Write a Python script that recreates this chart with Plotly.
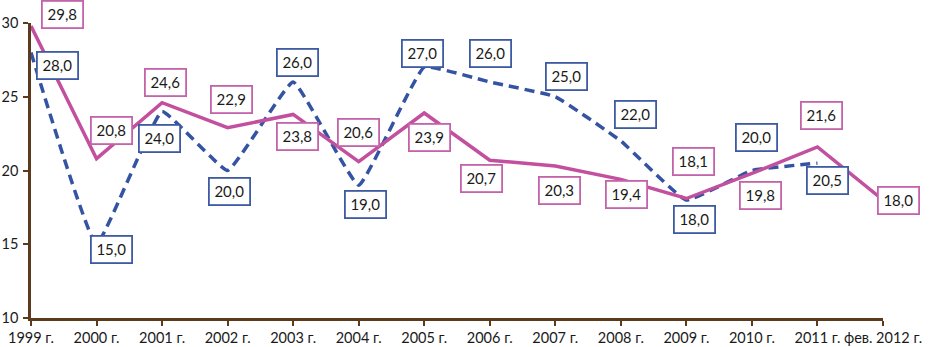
import plotly.graph_objects as go

categories = ["1999 г.", "2000 г.", "2001 г.", "2002 г.", "2003 г.", "2004 г.", "2005 г.",
              "2006 г.", "2007 г.", "2008 г.", "2009 г.", "2010 г.", "2011 г.", "фев. 2012 г."]
pink_values = [29.8, 20.8, 24.6, 22.9, 23.8, 20.6, 23.9, 20.7, 20.3, 19.4, 18.1, 19.8, 21.6, 18.0]
blue_values = [28.0, 15.0, 24.0, 20.0, 26.0, 19.0, 27.0, 26.0, 25.0, 22.0, 18.0, 20.0, 20.5, None]
y_ticks = [10, 15, 20, 25, 30]

# label pixel offsets (x, y) from each point; y positive = up
pink_offsets = [(31, 11), (15, 28), (3, 20), (4, 28), (4, -22), (0, 29), (5, -25),
                (-8, -18), (4, -24), (6, -15), (7, 37), (9, -22), (4, 31), (15, 0)]
blue_offsets = [(26, -13), (15, -5), (-3, -27), (2, -21), (4, 20), (7, -19), (-2, 14),
                (1, 29), (11, 20), (15, 27), (8, -19), (5, 33), (10, -17), None]

PINK = "#c2509e"
BLUE = "#3453a3"
PINK_BOX = "#c462aa"
BLUE_BOX = "#3d5aa2"
AXIS = "#5b3a1d"
FONT = "Lato"

fig = go.Figure()
fig.add_trace(go.Scatter(x=categories, y=blue_values, mode="lines",
                         line=dict(color=BLUE, width=3.5, dash="10px,6px", shape="spline", smoothing=0.3),
                         connectgaps=False, cliponaxis=False, hoverinfo="skip"))
fig.add_trace(go.Scatter(x=categories, y=pink_values, mode="lines",
                         line=dict(color=PINK, width=3.5), cliponaxis=False, hoverinfo="skip"))

annotations = []
def fmt(v):
    return f"{v:.1f}".replace(".", ",")

for c, v, off in zip(categories, blue_values, blue_offsets):
    if v is None:
        continue
    annotations.append(dict(x=c, y=v, xref="x", yref="y", text=fmt(v), showarrow=False,
                            xshift=off[0], yshift=off[1], bgcolor="white",
                            bordercolor=BLUE_BOX, borderwidth=1.8, borderpad=2,
                            width=35, height=21,
                            font=dict(family=FONT, size=15, color="#1a1a1a")))
for c, v, off in zip(categories, pink_values, pink_offsets):
    annotations.append(dict(x=c, y=v, xref="x", yref="y", text=fmt(v), showarrow=False,
                            xshift=off[0], yshift=off[1], bgcolor="white",
                            bordercolor=PINK_BOX, borderwidth=1.8, borderpad=2,
                            width=35, height=21,
                            font=dict(family=FONT, size=15, color="#1a1a1a")))

fig.update_layout(
    width=934, height=347,
    margin=dict(l=31, r=51, t=23, b=29, autoexpand=False),
    paper_bgcolor="white", plot_bgcolor="white",
    showlegend=False,
    annotations=annotations,
    font=dict(family=FONT, size=15, color="#1a1a1a"),
)
fig.update_xaxes(type="category", range=[0, 13], showgrid=False, zeroline=False,
                 showline=True, linecolor=AXIS, linewidth=2.5, automargin=False,
                 ticks="outside", ticklen=5, tickcolor=AXIS, tickwidth=1.5,
                 tickangle=0,
                 tickfont=dict(family=FONT, size=14.5, color="#1a1a1a"))
fig.update_yaxes(range=[10, 30], tickvals=y_ticks, showgrid=False, zeroline=False,
                 showline=True, linecolor=AXIS, linewidth=2.5, automargin=False,
                 ticks="outside", ticklen=5, tickcolor=AXIS, tickwidth=1.5,
                 ticklabelstandoff=2,
                 tickfont=dict(family=FONT, size=14.5, color="#1a1a1a"))

fig.write_html("out.html", config={"displayModeBar": False},
               post_script="document.body.style.margin='0px';document.body.style.padding='0px';"
                           "document.body.style.overflow='hidden';")
